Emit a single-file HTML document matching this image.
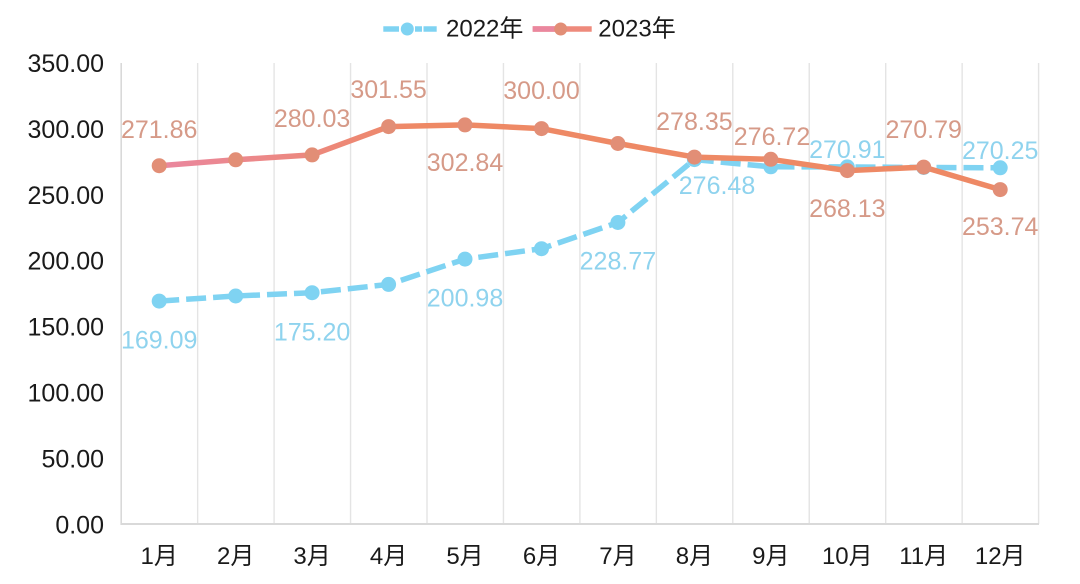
<!DOCTYPE html>
<html>
<head>
<meta charset="utf-8">
<style>
html,body{margin:0;padding:0;background:#fff;}
svg{display:block;}
text{font-family:"Liberation Sans","Noto Sans CJK SC",sans-serif;}
</style>
</head>
<body>
<svg width="1080" height="584" viewBox="0 0 1080 584" xmlns="http://www.w3.org/2000/svg">
<defs>
<linearGradient id="g23" gradientUnits="userSpaceOnUse" x1="159" y1="0" x2="420" y2="0">
<stop offset="0" stop-color="#EA879F"/>
<stop offset="1" stop-color="#EE8965"/>
</linearGradient>
</defs>
<rect width="1080" height="584" fill="#fff"/>
<!-- gridlines -->
<g stroke="#e4e4e4" stroke-width="1.4">
<line x1="197.65" y1="63" x2="197.65" y2="524"/>
<line x1="274.1" y1="63" x2="274.1" y2="524"/>
<line x1="350.55" y1="63" x2="350.55" y2="524"/>
<line x1="427" y1="63" x2="427" y2="524"/>
<line x1="503.45" y1="63" x2="503.45" y2="524"/>
<line x1="579.9" y1="63" x2="579.9" y2="524"/>
<line x1="656.35" y1="63" x2="656.35" y2="524"/>
<line x1="732.8" y1="63" x2="732.8" y2="524"/>
<line x1="809.25" y1="63" x2="809.25" y2="524"/>
<line x1="885.7" y1="63" x2="885.7" y2="524"/>
<line x1="962.15" y1="63" x2="962.15" y2="524"/>
<line x1="1038.6" y1="63" x2="1038.6" y2="524"/>
</g>
<line x1="121.2" y1="63" x2="121.2" y2="525" stroke="#d9d9d9" stroke-width="1.6"/>
<line x1="120.5" y1="524" x2="1039" y2="524" stroke="#d9d9d9" stroke-width="2"/>

<!-- y labels -->
<g font-size="25" fill="#1a1a1a" text-anchor="end">
<text x="104" y="533.3">0.00</text>
<text x="104" y="467.4">50.00</text>
<text x="104" y="401.5">100.00</text>
<text x="104" y="335.6">150.00</text>
<text x="104" y="269.7">200.00</text>
<text x="104" y="203.8">250.00</text>
<text x="104" y="137.9">300.00</text>
<text x="104" y="72">350.00</text>
</g>
<!-- x labels -->
<g font-size="24" fill="#1a1a1a" text-anchor="middle">
<text x="159.2" y="564">1月</text>
<text x="235.7" y="564">2月</text>
<text x="312.1" y="564">3月</text>
<text x="388.6" y="564">4月</text>
<text x="465" y="564">5月</text>
<text x="541.5" y="564">6月</text>
<text x="617.9" y="564">7月</text>
<text x="694.4" y="564">8月</text>
<text x="770.8" y="564">9月</text>
<text x="847.3" y="564">10月</text>
<text x="923.7" y="564">11月</text>
<text x="1000.2" y="564">12月</text>
</g>

<!-- 2022 series -->
<polyline fill="none" stroke="#7FD3F2" stroke-width="5.5" stroke-dasharray="20 7" stroke-linejoin="round"
points="159.2,301.1 235.7,296 312.1,292.7 388.6,284.4 465,259.1 541.5,248.7 617.9,222.5 694.4,159.6 770.8,166.8 847.3,166.9 923.7,167.5 1000.2,167.8"/>
<g fill="#7FD3F2">
<circle cx="159.2" cy="301.1" r="7.5"/>
<circle cx="235.7" cy="296" r="7.5"/>
<circle cx="312.1" cy="292.7" r="7.5"/>
<circle cx="388.6" cy="284.4" r="7.5"/>
<circle cx="465" cy="259.1" r="7.5"/>
<circle cx="541.5" cy="248.7" r="7.5"/>
<circle cx="617.9" cy="222.5" r="7.5"/>
<circle cx="694.4" cy="159.6" r="7.5"/>
<circle cx="770.8" cy="166.8" r="7.5"/>
<circle cx="847.3" cy="166.9" r="7.5"/>
<circle cx="923.7" cy="167.5" r="7.5"/>
<circle cx="1000.2" cy="167.8" r="7.5"/>
</g>

<!-- 2023 series -->
<polyline fill="none" stroke="url(#g23)" stroke-width="5.5" stroke-linejoin="round"
points="159.2,165.7 235.7,159.8 312.1,154.9 388.6,126.6 465,124.9 541.5,128.6 617.9,143.5 694.4,157.1 770.8,159.3 847.3,170.6 923.7,167.1 1000.2,189.6"/>
<g fill="#E28E76">
<circle cx="159.2" cy="165.7" r="7.5"/>
<circle cx="235.7" cy="159.8" r="7.5"/>
<circle cx="312.1" cy="154.9" r="7.5"/>
<circle cx="388.6" cy="126.6" r="7.5"/>
<circle cx="465" cy="124.9" r="7.5"/>
<circle cx="541.5" cy="128.6" r="7.5"/>
<circle cx="617.9" cy="143.5" r="7.5"/>
<circle cx="694.4" cy="157.1" r="7.5"/>
<circle cx="770.8" cy="159.3" r="7.5"/>
<circle cx="847.3" cy="170.6" r="7.5"/>
<circle cx="923.7" cy="167.1" r="7.5"/>
<circle cx="1000.2" cy="189.6" r="7.5"/>
</g>

<!-- 2022 labels -->
<g font-size="25" fill="#8FD3EE" text-anchor="middle">
<text x="159.2" y="348.3">169.09</text>
<text x="312.1" y="340.3">175.20</text>
<text x="465" y="306.3">200.98</text>
<text x="617.9" y="269.7">228.77</text>
<text x="717" y="194.2">276.48</text>
<text x="847.3" y="158.2">270.91</text>
<text x="1000.2" y="159.2">270.25</text>
</g>
<!-- 2023 labels -->
<g font-size="25" fill="#D69A88" text-anchor="middle">
<text x="159.2" y="137.9">271.86</text>
<text x="312.1" y="127.2">280.03</text>
<text x="388.6" y="97.8">301.55</text>
<text x="465" y="171.2">302.84</text>
<text x="541.5" y="98.8">300.00</text>
<text x="694.4" y="130.2">278.35</text>
<text x="772" y="145">276.72</text>
<text x="847.3" y="216.8">268.13</text>
<text x="923.7" y="138.2">270.79</text>
<text x="1000.2" y="235.2">253.74</text>
</g>

<!-- legend -->
<line x1="383.3" y1="29" x2="399" y2="29" stroke="#7FD3F2" stroke-width="5.5"/>
<line x1="415" y1="29" x2="422" y2="29" stroke="#7FD3F2" stroke-width="5.5"/>
<line x1="423.5" y1="29" x2="436.7" y2="29" stroke="#7FD3F2" stroke-width="5.5"/>
<circle cx="407.3" cy="29" r="6.5" fill="#7FD3F2"/>
<text x="446" y="36.7" font-size="24" fill="#1a1a1a">2022年</text>
<line x1="532.7" y1="29" x2="591.7" y2="29" stroke="#EE8A7C" stroke-width="5.5"/>
<line x1="532.7" y1="29" x2="555" y2="29" stroke="#EA879F" stroke-width="5.5"/>
<circle cx="560.7" cy="29" r="6.5" fill="#E28E76"/>
<text x="598.3" y="36.7" font-size="24" fill="#1a1a1a">2023年</text>
</svg>
</body>
</html>
